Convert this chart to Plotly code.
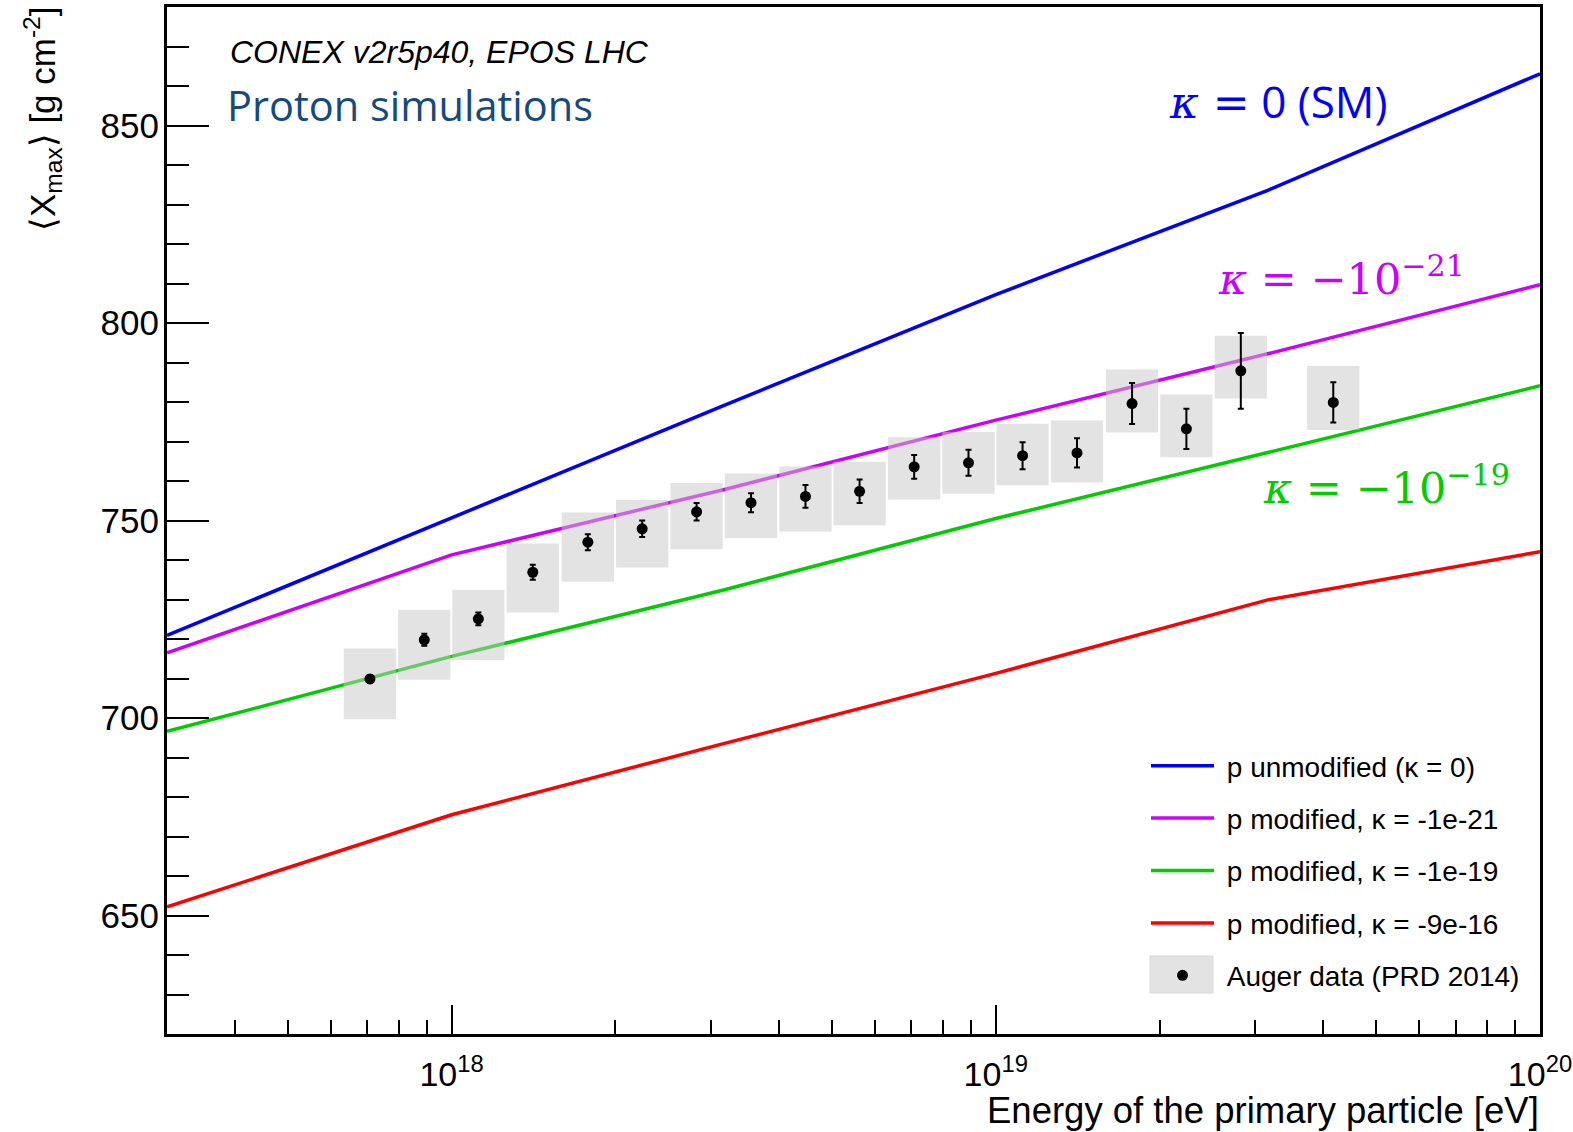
import math
import plotly.graph_objects as go

# ---------------- data ----------------
# CONEX simulation curves (mean Xmax vs energy)
sim_energy = [3.0e17, 1.0e18, 3.16e18, 1.0e19, 3.16e19, 1.0e20]
xmax_sm = [720.9, 750.7, 779.1, 807.2, 833.6, 863.1]      # kappa = 0
xmax_k21 = [716.5, 741.3, 757.8, 775.4, 792.2, 809.7]     # kappa = -1e-21
xmax_k19 = [696.6, 715.6, 732.4, 750.5, 767.2, 784.1]     # kappa = -1e-19
xmax_k16 = [652.2, 675.5, 693.5, 711.3, 729.9, 742.1]     # kappa = -9e-16

# Auger data (PRD 2014)
auger_energy = [7.08e17, 8.91e17, 1.12e18, 1.41e18, 1.78e18, 2.24e18, 2.82e18, 3.55e18,
                4.47e18, 5.62e18, 7.08e18, 8.91e18, 1.12e19, 1.41e19, 1.78e19, 2.24e19,
                2.82e19, 4.17e19]
auger_xmax = [709.9, 719.8, 725.1, 736.9, 744.5, 747.9, 752.2, 754.5, 756.1, 757.4,
              763.6, 764.6, 766.4, 767.1, 779.6, 773.2, 787.9, 779.9]
auger_stat = [1.0, 1.5, 1.6, 1.9, 2.0, 2.1, 2.2, 2.4, 2.9, 2.95, 3.0, 3.3, 3.4, 3.7,
              5.2, 5.1, 9.6, 5.1]
auger_sys_up = [7.7, 7.6, 7.3, 7.3, 7.5, 7.3, 7.3, 7.4, 7.6, 7.5, 7.5, 7.8, 8.1, 8.2,
                8.6, 8.7, 8.9, 9.2]
auger_sys_down = [10.2, 10.1, 10.4, 10.2, 10.0, 9.8, 9.5, 8.9, 8.9, 8.6, 8.3, 7.8, 7.5,
                  7.5, 7.3, 7.2, 7.0, 7.0]

x_tick_vals = [1e18, 1e19, 1e20]
x_tick_text = ["10<sup>18</sup>", "10<sup>19</sup>", "10<sup>20</sup>"]

# ---------------- style ----------------
W, H = 1573, 1132
L, R, T, B = 167, 33, 7, 98
PW, PH = W - L - R, H - T - B
BOX_HALF_DEX = 0.048
SANS = "Liberation Sans, Arial, sans-serif"
NB = "\u00a0"


def px_x(p):
    return (p - L) / PW


def px_y(p):
    return (H - B - p) / PH


fig = go.Figure()

curves = [
    (xmax_sm, "#0000ff", "p unmodified (\u03ba = 0)"),
    (xmax_k21, "#cc00ff", "p modified, \u03ba = -1e-21"),
    (xmax_k19, "#00cc00", "p modified, \u03ba = -1e-19"),
    (xmax_k16, "#ff0000", "p modified, \u03ba = -9e-16"),
]
for i, (vals, col, name) in enumerate(curves):
    fig.add_trace(go.Scatter(
        x=sim_energy, y=vals, mode="lines", name=NB + name,
        line=dict(color=col, width=3.5), legendgroup=f"g{i}",
    ))

# systematic boxes
bx, by = [], []
for e, y, up, dn in zip(auger_energy, auger_xmax, auger_sys_up, auger_sys_down):
    lo = e * 10 ** (-BOX_HALF_DEX)
    hi = e * 10 ** BOX_HALF_DEX
    bx += [lo, hi, hi, lo, lo, None]
    by += [y - dn, y - dn, y + up, y + up, y - dn, None]
fig.add_trace(go.Scatter(
    x=bx, y=by, mode="lines", fill="toself", fillcolor="rgba(200,200,200,0.5)",
    line=dict(width=0, color="rgba(0,0,0,0)"), showlegend=False, hoverinfo="skip",
))

fig.add_trace(go.Scatter(
    x=auger_energy, y=auger_xmax, mode="markers", name=NB + "Auger data (PRD 2014)",
    marker=dict(color="black", size=11),
    error_y=dict(type="data", array=auger_stat, color="black", thickness=2, width=3),
    legendgroup="g5",
))

fig.update_layout(
    width=W, height=H,
    margin=dict(l=L, r=R, t=T, b=B, autoexpand=False),
    paper_bgcolor="white", plot_bgcolor="white",
    font=dict(family=SANS, color="black"),
    showlegend=True,
    legend=dict(
        x=px_x(1146), xanchor="left", y=px_y(741), yanchor="top",
        bgcolor="rgba(0,0,0,0)", borderwidth=0,
        font=dict(family=SANS, size=28, color="black"),
        tracegroupgap=13, itemwidth=63,
    ),
    xaxis=dict(
        type="log", range=[math.log10(3e17), 20],
        showline=True, linecolor="black", linewidth=3, mirror=True,
        showgrid=False, zeroline=False,
        ticks="inside", ticklen=29, tickwidth=2, tickcolor="black",
        tickmode="array", tickvals=x_tick_vals, ticktext=x_tick_text,
        tickfont=dict(family=SANS, size=34, color="black"),
        ticklabelstandoff=8,
        minor=dict(ticks="inside", ticklen=14, tickwidth=2, tickcolor="black",
                   dtick="D1", showgrid=False),
    ),
    yaxis=dict(
        range=[620, 880],
        showline=True, linecolor="black", linewidth=3, mirror=True,
        showgrid=False, zeroline=False,
        ticks="inside", ticklen=42, tickwidth=2, tickcolor="black",
        tick0=0, dtick=50,
        tickfont=dict(family=SANS, size=35, color="black"),
        ticklabelstandoff=-2,
        minor=dict(ticks="inside", ticklen=22, tickwidth=2, tickcolor="black",
                   dtick=10, showgrid=False),
    ),
)

# grey swatch behind the Auger legend marker
fig.add_shape(type="rect", xref="paper", yref="paper",
              x0=px_x(1150), x1=px_x(1213), y0=px_y(993), y1=px_y(956),
              fillcolor="#e3e3e3", line=dict(width=1, color="#d8d8d8"), layer="below")


def note(text, xp, yp, size, family, color, xanchor="left", yanchor="middle", angle=0):
    return dict(text=text, xref="paper", yref="paper", x=px_x(xp), y=px_y(yp),
                xanchor=xanchor, yanchor=yanchor, showarrow=False, textangle=angle,
                font=dict(family=family, size=size, color=color))


ann = [
    note("<i>CONEX v2r5p40, EPOS LHC</i>", 228, 52, 32, SANS, "black"),
    note("Proton simulations", 225, 105, 41.5, "Open Sans", "#174a7c"),
    note("<span style=\"font-family:DejaVu Serif\"><i>\u03ba</i> =</span> 0 (SM)",
         1167, 101, 44, "Open Sans", "#0000ff"),
    note("<i>\u03ba</i> = \u221210<sup>\u221221</sup>", 1216, 276, 43, "DejaVu Serif", "#cc00ff"),
    note("<i>\u03ba</i> = \u221210<sup>\u221219</sup>", 1261, 485, 43, "DejaVu Serif", "#00cc00"),
    note("\u27e8X<sub>max</sub>\u27e9 [g cm<sup>-2</sup>]", 42, 5, 35, SANS, "black",
         xanchor="center", yanchor="top", angle=-90),
    note("Energy of the primary particle [eV]", 1541, 1110, 36.5, SANS, "black",
         xanchor="right"),
]
fig.update_layout(annotations=ann)

fig.write_html("out.html", post_script="document.body.style.margin='0px';",
               config={"displayModeBar": False})
